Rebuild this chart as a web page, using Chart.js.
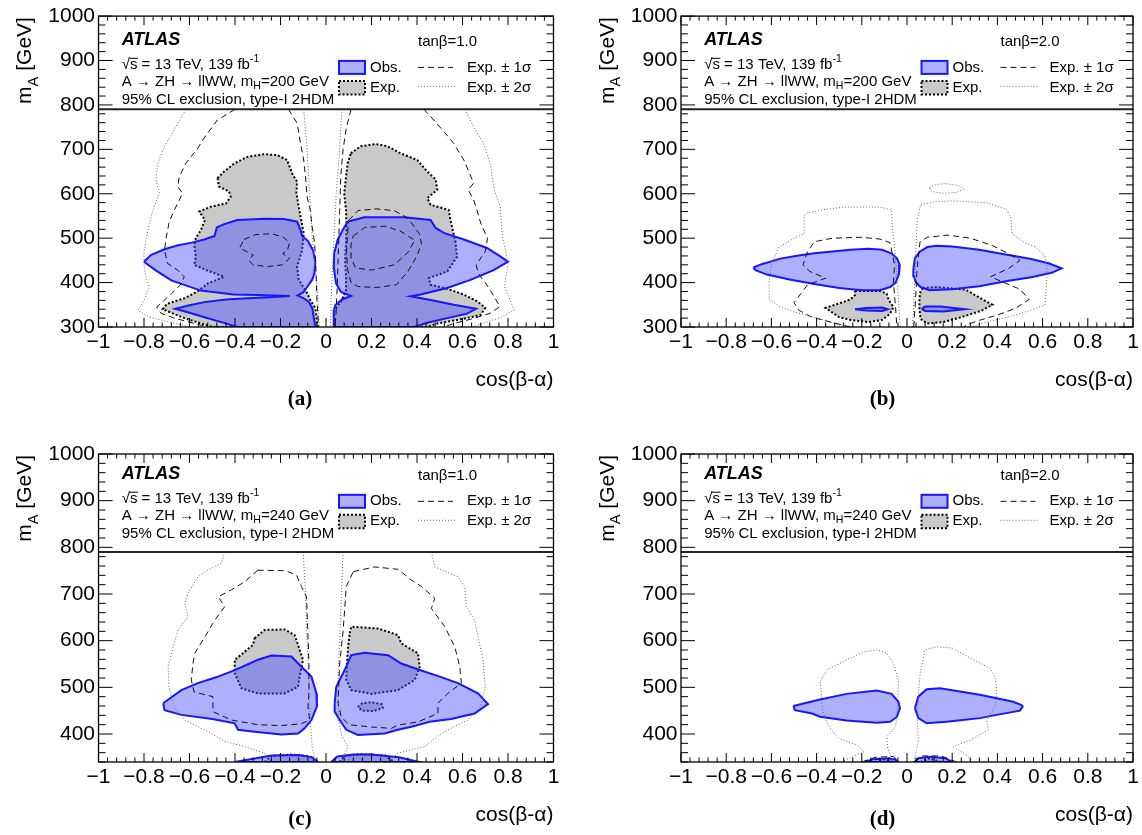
<!DOCTYPE html>
<html>
<head>
<meta charset="utf-8">
<title>A → ZH → llWW exclusion contours, type-I 2HDM</title>
<script src="https://cdn.jsdelivr.net/npm/chart.js@4.4.1/dist/chart.umd.min.js"></script>
<style>
  body { margin: 0; background: #fff; }
  #wrap { position: relative; width: 1142px; height: 835px; }
  canvas { position: absolute; }
</style>
</head>
<body>
<div id="wrap">
  <canvas id="panelA" width="571" height="417" style="left:0;top:0"></canvas>
  <canvas id="panelB" width="571" height="417" style="left:571px;top:0"></canvas>
  <canvas id="panelC" width="571" height="418" style="left:0;top:417px"></canvas>
  <canvas id="panelD" width="571" height="418" style="left:571px;top:417px"></canvas>
</div>
<script>
// Axis ticks and labels
const xTickValues = [-1, -0.8, -0.6, -0.4, -0.2, 0, 0.2, 0.4, 0.6, 0.8, 1];
const xTickLabels = ['−1', '−0.8', '−0.6', '−0.4', '−0.2', '0', '0.2', '0.4', '0.6', '0.8', '1'];
const yTicksLow = [300, 400, 500, 600, 700, 800, 900, 1000];
const yTicksHigh = [400, 500, 600, 700, 800, 900, 1000];
const legendCut = 790;   // contours stop under the legend block

// ---- (a) mH = 200 GeV, tanb = 1.0 ----  points are [cos(b-a), mA]
const obsA_L = [[-0.80,447],[-0.77,462],[-0.71,475],[-0.65,484],[-0.59,490],[-0.535,497],[-0.49,505],[-0.48,524],[-0.45,531],[-0.39,541],[-0.27,544],[-0.185,543],[-0.127,537],[-0.112,518],[-0.105,505],[-0.08,494],[-0.057,473],[-0.047,447],[-0.051,421],[-0.061,406],[-0.083,390],[-0.10,378],[-0.125,371],[-0.095,364],[-0.075,356],[-0.06,342],[-0.054,322],[-0.046,300],[-0.39,300],[-0.46,311],[-0.535,322],[-0.60,332],[-0.663,341],[-0.60,349],[-0.535,356],[-0.44,362],[-0.343,365],[-0.25,367],[-0.16,370],[-0.30,372],[-0.407,373],[-0.55,382],[-0.68,405],[-0.75,428]];
const obsA_R = [[0.095,537],[0.168,547],[0.343,547],[0.46,541],[0.482,523],[0.518,512],[0.606,497],[0.708,478],[0.766,459],[0.80,447],[0.737,428],[0.635,406],[0.533,388],[0.416,373],[0.372,369],[0.46,361],[0.562,350],[0.66,341],[0.62,330],[0.533,320],[0.45,310],[0.387,300],[0.034,300],[0.034,338],[0.042,350],[0.07,362],[0.11,370],[0.066,379],[0.044,398],[0.034,436],[0.036,466],[0.051,496],[0.073,518]];
const expA_L = [[-0.477,635],[-0.448,650],[-0.404,668],[-0.346,683],[-0.273,689],[-0.214,687],[-0.171,676],[-0.149,646],[-0.127,627],[-0.130,601],[-0.120,571],[-0.109,541],[-0.098,511],[-0.105,473],[-0.127,436],[-0.120,406],[-0.090,383],[-0.069,361],[-0.047,342],[-0.036,300],[-0.50,300],[-0.623,320],[-0.718,340],[-0.70,352],[-0.62,365],[-0.565,380],[-0.52,398],[-0.448,413],[-0.521,427],[-0.579,440],[-0.572,458],[-0.579,485],[-0.572,500],[-0.550,518],[-0.532,541],[-0.557,560],[-0.506,571],[-0.44,578],[-0.419,593],[-0.426,605],[-0.470,616]];
const expA_R = [[0.109,691],[0.153,707],[0.219,712],[0.27,707],[0.328,691],[0.401,676],[0.445,650],[0.482,632],[0.489,609],[0.445,590],[0.46,575],[0.511,568],[0.54,563],[0.547,541],[0.562,507],[0.569,493],[0.576,458],[0.533,425],[0.452,410],[0.46,395],[0.518,388],[0.569,380],[0.605,373],[0.664,358],[0.70,343],[0.679,327],[0.60,318],[0.489,308],[0.445,300],[0.036,300],[0.036,338],[0.066,357],[0.088,383],[0.088,413],[0.084,451],[0.088,488],[0.09,530],[0.088,563],[0.08,601],[0.088,638],[0.095,668]];
const sig1A_L = [[-0.40,790],[-0.477,766],[-0.53,730],[-0.567,700],[-0.616,669],[-0.645,638],[-0.652,616],[-0.63,601],[-0.667,563],[-0.689,537],[-0.703,500],[-0.71,473],[-0.696,443],[-0.652,428],[-0.623,413],[-0.64,395],[-0.679,375],[-0.744,345],[-0.725,331],[-0.667,320],[-0.579,308],[-0.52,300]];
const sig1A_Lin = [[-0.165,790],[-0.127,759],[-0.112,713],[-0.098,676],[-0.09,638],[-0.083,593],[-0.069,563],[-0.061,526],[-0.05,488],[-0.045,440],[-0.042,400],[-0.04,360],[-0.036,330],[-0.032,300]];
const sig1A_Lring = [[-0.36,497],[-0.31,508],[-0.24,510],[-0.19,503],[-0.16,490],[-0.17,472],[-0.19,465],[-0.16,455],[-0.19,440],[-0.26,436],[-0.32,440],[-0.34,450],[-0.32,462],[-0.38,478]];
const sig1A_R = [[0.43,790],[0.474,766],[0.518,740],[0.562,713],[0.606,676],[0.63,647],[0.649,624],[0.625,609],[0.649,586],[0.664,563],[0.68,534],[0.71,500],[0.70,470],[0.66,440],[0.67,420],[0.70,400],[0.722,383],[0.765,346],[0.722,331],[0.64,318],[0.562,308],[0.518,300]];
const sig1A_Rin = [[0.11,790],[0.09,750],[0.075,700],[0.065,640],[0.06,560],[0.055,480],[0.05,400],[0.045,340],[0.04,300]];
const sig1A_Rring1 = [[0.10,540],[0.14,562],[0.22,566],[0.30,562],[0.36,545],[0.41,510],[0.42,488],[0.40,460],[0.36,425],[0.31,395],[0.22,389],[0.14,391],[0.11,400],[0.095,430],[0.09,470],[0.095,510]];
const sig1A_Rring2 = [[0.12,505],[0.17,524],[0.26,527],[0.33,515],[0.39,495],[0.36,468],[0.30,440],[0.20,428],[0.13,433],[0.11,455],[0.11,485]];
const sig2A_L = [[-0.616,790],[-0.667,744],[-0.71,706],[-0.74,669],[-0.747,631],[-0.732,601],[-0.761,563],[-0.776,533],[-0.79,500],[-0.80,470],[-0.80,440],[-0.79,410],[-0.776,390],[-0.80,360],[-0.827,338],[-0.78,323],[-0.68,310],[-0.594,300]];
const sig2A_Lin = [[-0.098,790],[-0.085,713],[-0.072,600],[-0.06,500],[-0.045,420],[-0.035,360],[-0.03,300]];
const sig2A_R = [[0.61,790],[0.649,751],[0.693,713],[0.722,668],[0.73,638],[0.74,609],[0.766,571],[0.77,541],[0.775,504],[0.79,470],[0.80,440],[0.79,410],[0.785,390],[0.81,360],[0.827,338],[0.77,322],[0.70,310],[0.64,300]];
const sig2A_Rin = [[0.07,790],[0.06,700],[0.045,600],[0.035,500],[0.028,420],[0.022,360],[0.02,300]];

// ---- (b) mH = 200 GeV, tanb = 2.0 ----
const obsB_L = [[-0.68,434],[-0.64,442],[-0.56,454],[-0.48,461],[-0.41,466],[-0.33,470],[-0.25,474],[-0.17,476],[-0.11,474],[-0.07,466],[-0.045,455],[-0.032,440],[-0.035,420],[-0.05,400],[-0.075,390],[-0.12,383],[-0.2,383],[-0.3,388],[-0.41,397],[-0.52,407],[-0.62,418],[-0.67,428]];
const obsB_R = [[0.028,430],[0.035,455],[0.058,470],[0.09,480],[0.13,483],[0.2,481],[0.32,474],[0.43,464],[0.55,453],[0.63,443],[0.684,432],[0.64,422],[0.55,412],[0.45,404],[0.32,392],[0.2,385],[0.1,383],[0.06,390],[0.04,400],[0.03,415]];
const obsB_Ls = [[-0.23,340],[-0.18,343],[-0.11,344],[-0.085,340],[-0.11,336],[-0.18,337]];
const obsB_Rs = [[0.065,341],[0.08,346],[0.15,346],[0.255,340],[0.16,335],[0.08,336]];
const expB_L = [[-0.23,381],[-0.12,381],[-0.09,375],[-0.08,360],[-0.06,345],[-0.075,330],[-0.11,316],[-0.17,311],[-0.25,316],[-0.30,322],[-0.36,343],[-0.30,353],[-0.25,362],[-0.23,372]];
const expB_R = [[0.07,388],[0.13,390],[0.26,384],[0.30,372],[0.378,350],[0.33,337],[0.24,322],[0.16,311],[0.09,308],[0.06,318],[0.055,340],[0.055,365],[0.06,380]];
const sig1B_L = [[-0.25,300],[-0.33,310],[-0.42,322],[-0.48,338],[-0.50,355],[-0.47,375],[-0.44,395],[-0.36,410],[-0.43,425],[-0.46,440],[-0.44,470],[-0.41,492],[-0.33,500],[-0.2,502],[-0.12,498],[-0.075,490],[-0.065,465],[-0.055,440],[-0.06,400],[-0.055,370],[-0.05,340],[-0.045,300]];
const sig1B_R = [[0.03,300],[0.035,340],[0.04,380],[0.043,420],[0.05,460],[0.058,492],[0.09,502],[0.18,507],[0.28,500],[0.38,483],[0.46,462],[0.50,450],[0.45,432],[0.37,413],[0.43,400],[0.50,385],[0.54,362],[0.48,342],[0.40,327],[0.32,315],[0.27,306],[0.25,300]];
const sig2B_L = [[-0.27,300],[-0.36,315],[-0.46,328],[-0.56,345],[-0.61,362],[-0.61,400],[-0.60,440],[-0.567,480],[-0.50,500],[-0.455,510],[-0.455,550],[-0.44,557],[-0.36,565],[-0.28,570],[-0.12,570],[-0.07,564],[-0.065,530],[-0.055,480],[-0.048,430],[-0.04,380],[-0.035,340],[-0.03,300]];
const sig2B_R = [[0.025,300],[0.03,360],[0.035,420],[0.04,480],[0.045,540],[0.06,575],[0.12,582],[0.2,584],[0.35,580],[0.44,565],[0.46,545],[0.465,510],[0.52,490],[0.57,480],[0.61,460],[0.62,430],[0.615,380],[0.61,350],[0.55,338],[0.45,323],[0.36,312],[0.28,300]];
const sig2B_island = [[0.10,613],[0.12,620],[0.17,623],[0.23,618],[0.25,610],[0.22,603],[0.16,601],[0.11,605]];

// ---- (c) mH = 240 GeV, tanb = 1.0 ----
const obsC_L = [[-0.716,466],[-0.636,494],[-0.563,509],[-0.48,522],[-0.401,537],[-0.299,559],[-0.24,568],[-0.152,566],[-0.108,544],[-0.064,523],[-0.042,487],[-0.04,459],[-0.064,430],[-0.094,412],[-0.123,401],[-0.196,399],[-0.314,405],[-0.387,409],[-0.401,423],[-0.50,432],[-0.636,441],[-0.709,451]];
const obsC_R = [[0.038,466],[0.045,501],[0.082,537],[0.111,569],[0.17,574],[0.273,569],[0.331,551],[0.412,537],[0.50,523],[0.58,509],[0.668,487],[0.712,464],[0.653,444],[0.55,432],[0.463,427],[0.38,416],[0.316,409],[0.258,401],[0.141,398],[0.089,409],[0.06,430],[0.038,448]];
const obsC_Lb = [[-0.40,340],[-0.32,347],[-0.24,354],[-0.12,355],[-0.06,350],[-0.035,340]];
const obsC_Rb = [[0.023,340],[0.05,352],[0.12,356],[0.2,356],[0.32,350],[0.41,340]];
const expC_L = [[-0.314,605],[-0.27,623],[-0.182,624],[-0.138,612],[-0.123,591],[-0.101,559],[-0.116,523],[-0.123,501],[-0.182,487],[-0.299,487],[-0.372,498],[-0.401,530],[-0.401,559],[-0.358,576],[-0.321,591]];
const expC_R = [[0.104,616],[0.111,630],[0.229,626],[0.316,612],[0.331,594],[0.404,573],[0.412,544],[0.39,516],[0.316,494],[0.199,486],[0.111,494],[0.089,516],[0.092,550],[0.097,587]];
const expC_Rdot = [[0.14,458],[0.16,466],[0.2,468],[0.245,464],[0.25,456],[0.21,449],[0.16,450]];
const expC_Lb = [[-0.27,340],[-0.24,353],[-0.15,356],[-0.07,352],[-0.045,340]];
const expC_Rb = [[0.06,340],[0.08,353],[0.15,357],[0.26,354],[0.3,340]];
const sig1C_L = [[-0.30,751],[-0.18,750],[-0.13,741],[-0.108,716],[-0.086,694],[-0.082,650],[-0.079,609],[-0.075,550],[-0.075,490],[-0.079,459],[-0.072,430],[-0.108,422],[-0.20,418],[-0.30,420],[-0.416,430],[-0.497,448],[-0.497,480],[-0.58,490],[-0.592,516],[-0.585,550],[-0.577,573],[-0.53,610],[-0.489,644],[-0.445,673],[-0.474,694],[-0.416,709],[-0.358,726]];
const sig1C_R = [[0.12,748],[0.214,758],[0.316,753],[0.375,730],[0.42,716],[0.478,691],[0.463,669],[0.522,630],[0.566,587],[0.588,544],[0.595,509],[0.536,487],[0.492,466],[0.492,444],[0.404,426],[0.316,419],[0.287,412],[0.2,415],[0.1,420],[0.067,437],[0.053,466],[0.06,550],[0.075,620],[0.082,666],[0.089,716]];
const sig2C_L = [[-0.445,790],[-0.46,766],[-0.52,751],[-0.563,737],[-0.607,701],[-0.621,680],[-0.607,651],[-0.651,623],[-0.672,587],[-0.694,544],[-0.69,500],[-0.67,460],[-0.62,430],[-0.56,415],[-0.504,401],[-0.45,385],[-0.358,373],[-0.27,359],[-0.24,340]];
const sig2C_Lin = [[-0.10,790],[-0.09,700],[-0.083,600],[-0.075,500],[-0.068,420],[-0.06,370],[-0.045,340]];
const sig2C_R = [[0.463,790],[0.478,758],[0.58,737],[0.61,716],[0.617,673],[0.653,644],[0.668,609],[0.69,559],[0.70,501],[0.68,460],[0.624,430],[0.56,415],[0.507,401],[0.434,373],[0.316,359],[0.273,340]];
const sig2C_Rin = [[0.075,790],[0.068,700],[0.06,600],[0.052,500],[0.055,430],[0.07,395],[0.097,373],[0.08,355],[0.07,340]];

// ---- (d) mH = 240 GeV, tanb = 2.0 ----
const obsD_L = [[-0.503,460],[-0.496,451],[-0.42,444],[-0.385,437],[-0.267,429],[-0.134,424],[-0.075,426],[-0.046,436],[-0.031,455],[-0.038,469],[-0.068,486],[-0.134,493],[-0.267,486],[-0.385,474]];
const obsD_R = [[0.035,455],[0.05,480],[0.087,496],[0.146,498],[0.323,484],[0.47,469],[0.507,462],[0.512,459],[0.50,450],[0.397,441],[0.323,434],[0.176,426],[0.087,423],[0.05,434]];
const obsD_Lb = [[-0.19,340],[-0.15,346],[-0.08,348],[-0.05,345],[-0.04,340]];
const obsD_Rb = [[0.035,340],[0.05,348],[0.1,351],[0.17,348],[0.2,340]];
const expD_Lb = [[-0.14,340],[-0.1,346],[-0.06,340]];
const expD_Rb = [[0.06,340],[0.1,348],[0.15,340]];
const sig1D_Lb = [[-0.2,340],[-0.14,350],[-0.06,352],[-0.04,340]];
const sig1D_Rb = [[0.03,340],[0.07,353],[0.15,353],[0.22,340]];
const sig2D_L = [[-0.29,340],[-0.24,352],[-0.19,362],[-0.22,376],[-0.30,390],[-0.33,405],[-0.355,426],[-0.37,445],[-0.38,470],[-0.378,487],[-0.385,512],[-0.355,537],[-0.267,559],[-0.19,576],[-0.134,580],[-0.09,573],[-0.06,551],[-0.038,516],[-0.04,470],[-0.05,416],[-0.09,394],[-0.085,370],[-0.07,350],[-0.06,340]];
const sig2D_R = [[0.028,340],[0.04,360],[0.05,387],[0.046,423],[0.05,480],[0.058,530],[0.08,580],[0.131,587],[0.2,584],[0.294,559],[0.367,541],[0.389,523],[0.397,494],[0.39,460],[0.353,430],[0.36,409],[0.28,387],[0.205,373],[0.264,355],[0.293,340]];

const FONT = "'Liberation Sans', Arial, Helvetica, sans-serif";
const OBS_FILL = 'rgba(70, 80, 255, 0.45)';
const OBS_LINE = '#1616ff';
const EXP_FILL = '#c9c9c9';

function toPoints(arr, closed) {
  const list = closed ? arr.concat([arr[0]]) : arr;
  return list.map(p => ({ x: p[0], y: p[1] }));
}

// dataset makers, lower order is drawn on top
function obsArea(arr) {
  return { data: toPoints(arr, true), borderColor: OBS_LINE, borderWidth: 2, backgroundColor: OBS_FILL, fill: 'shape', order: 3 };
}
function expArea(arr) {
  return { data: toPoints(arr, true), borderColor: '#000', borderWidth: 2, borderDash: [2, 2], backgroundColor: EXP_FILL, fill: 'shape', order: 4 };
}
function sigma1(arr, closed) {
  return { data: toPoints(arr, closed), borderColor: '#111', borderWidth: 1, borderDash: [6, 4], fill: false, order: 1 };
}
function sigma2(arr, closed) {
  return { data: toPoints(arr, closed), borderColor: '#666', borderWidth: 1, borderDash: [1, 2], fill: false, order: 2 };
}

// draws text pieces with sub/superscripts, returns end x
function rich(ctx, x, y, parts, size) {
  parts.forEach(part => {
    const s = (part.sub || part.sup) ? size * 0.7 : size;
    ctx.font = s + 'px ' + FONT;
    const dy = part.sub ? size * 0.32 : (part.sup ? -size * 0.42 : 0);
    ctx.fillText(part.t, x, y + dy);
    x += ctx.measureText(part.t).width;
  });
  return x;
}

function seg(ctx, x1, y1, x2, y2) {
  ctx.beginPath(); ctx.moveTo(x1, y1); ctx.lineTo(x2, y2); ctx.stroke();
}

// ROOT-like frame: inner ticks, cut line, legend and labels
const rootStyle = {
  id: 'rootStyle',
  afterDatasetsDraw(chart, args, opts) {
    const { ctx, chartArea: a } = chart;
    const xs = chart.scales.x, ys = chart.scales.y;
    ctx.save();

    // line under the legend block
    const yc = ys.getPixelForValue(legendCut);
    ctx.strokeStyle = '#222'; ctx.lineWidth = 2;
    seg(ctx, a.left, yc, a.right, yc);

    // ticks on all four sides
    ctx.strokeStyle = '#000'; ctx.lineWidth = 1;
    ctx.beginPath();
    const tickX = (v, len) => {
      const px = xs.getPixelForValue(v);
      ctx.moveTo(px, a.bottom); ctx.lineTo(px, a.bottom - len);
      ctx.moveTo(px, a.top); ctx.lineTo(px, a.top + len);
    };
    xTickValues.forEach((v, i) => {
      tickX(v, 9);
      if (i < xTickValues.length - 1) {
        const step = (xTickValues[i + 1] - v) / 5;
        for (let k = 1; k < 5; k++) tickX(v + k * step, 4.5);
      }
    });
    for (let v = ys.min; v <= ys.max; v += 20) {
      const len = v % 100 === 0 ? 14 : 7;
      const py = ys.getPixelForValue(v);
      ctx.moveTo(a.left, py); ctx.lineTo(a.left + len, py);
      ctx.moveTo(a.right, py); ctx.lineTo(a.right - len, py);
    }
    ctx.stroke();

    // frame
    ctx.lineWidth = 1.3;
    ctx.strokeRect(a.left, a.top, a.right - a.left, a.bottom - a.top);

    // annotation block
    const L = a.left, T = a.top + opts.textTop;
    ctx.fillStyle = '#000';
    ctx.textAlign = 'left';
    ctx.textBaseline = 'middle';
    ctx.font = 'italic bold 18px ' + FONT;
    ctx.fillText('ATLAS', L + 23.2, T);

    ctx.font = '15px ' + FONT;
    const rootW = ctx.measureText('√').width;
    const sW = ctx.measureText('s').width;
    rich(ctx, L + 23.2, T + 25, [{ t: '√s = 13 TeV, 139 fb' }, { t: '-1', sup: true }], 15);
    ctx.lineWidth = 1;
    seg(ctx, L + 23.2 + rootW - 0.5, T + 25 - 6.8, L + 23.2 + rootW + sW + 0.5, T + 25 - 6.8);
    rich(ctx, L + 23.2, T + 41.5, [{ t: 'A → ZH → llWW, m' }, { t: 'H', sub: true }, { t: '=' + opts.mH + ' GeV' }], 15);
    ctx.font = '15px ' + FONT;
    ctx.fillText('95% CL exclusion, type-I 2HDM', L + 23.2, T + 59.5);
    ctx.fillText('tanβ=' + opts.tanb, L + 319.5, T + 1.7);

    // legend
    ctx.fillStyle = OBS_FILL;
    ctx.fillRect(L + 240.5, T + 20.8, 26, 13);
    ctx.strokeStyle = OBS_LINE; ctx.lineWidth = 2;
    ctx.strokeRect(L + 240.5, T + 20.8, 26, 13);
    ctx.fillStyle = EXP_FILL;
    ctx.fillRect(L + 240.5, T + 40.8, 26, 13.5);
    ctx.strokeStyle = '#000'; ctx.setLineDash([2, 2]);
    ctx.strokeRect(L + 240.5, T + 40.8, 26, 13.5);
    ctx.lineWidth = 1; ctx.strokeStyle = '#111'; ctx.setLineDash([6, 4]);
    seg(ctx, L + 319.5, T + 27.3, L + 354.5, T + 27.3);
    ctx.strokeStyle = '#666'; ctx.setLineDash([1, 2]);
    seg(ctx, L + 319.5, T + 46.3, L + 358.5, T + 46.3);
    ctx.setLineDash([]);
    ctx.fillStyle = '#000';
    ctx.fillText('Obs.', L + 271.5, T + 27.3);
    ctx.fillText('Exp.', L + 271.5, T + 47.3);
    ctx.fillText('Exp. ± 1σ', L + 368.5, T + 27.3);
    ctx.fillText('Exp. ± 2σ', L + 368.5, T + 47.3);

    // axis titles
    ctx.textBaseline = 'alphabetic';
    ctx.textAlign = 'right';
    ctx.font = '21px ' + FONT;
    ctx.fillText('cos(β-α)', a.right, a.bottom + 59);

    ctx.save();
    ctx.translate(a.left - 67.5, a.top + 1);
    ctx.rotate(-Math.PI / 2);
    ctx.textAlign = 'left';
    const yParts = [{ t: 'm' }, { t: 'A', sub: true }, { t: ' [GeV]' }];
    let w = 0;
    yParts.forEach(p => { ctx.font = ((p.sub ? 21 * 0.7 : 21) + 'px ' + FONT); w += ctx.measureText(p.t).width; });
    rich(ctx, -w, 0, yParts, 21);
    ctx.restore();

    // panel letter
    ctx.textAlign = 'center';
    ctx.font = "bold 21px 'Liberation Serif', 'Times New Roman', serif";
    ctx.fillText(opts.label, a.left + 201.5, a.bottom + opts.labelDy);
    ctx.restore();
  }
};

function makePanel(id, cfg) {
  const canvas = document.getElementById(id);
  const W = canvas.width, H = canvas.height;
  return new Chart(canvas, {
    type: 'line',
    data: { datasets: cfg.datasets },
    options: {
      responsive: false,
      animation: false,
      events: [],
      layout: { padding: { left: 0, top: cfg.top, right: W - cfg.right, bottom: 0 } },
      elements: { point: { radius: 0 }, line: { tension: 0 } },
      scales: {
        x: {
          type: 'linear', min: -1, max: 1,
          grid: { display: false, drawTicks: false },
          border: { display: false },
          afterBuildTicks: s => { s.ticks = xTickValues.map(v => ({ value: v })); },
          afterFit: s => { s.height = H - cfg.bottom; },
          ticks: {
            autoSkip: false, maxRotation: 0, minRotation: 0, padding: 3, color: '#000',
            font: { family: FONT, size: 21 },
            callback: (v, i) => xTickLabels[i]
          }
        },
        y: {
          type: 'linear', min: cfg.ymin, max: 1000,
          grid: { display: false, drawTicks: false },
          border: { display: false },
          afterBuildTicks: s => { s.ticks = cfg.yTicks.map(v => ({ value: v })); },
          afterFit: s => { s.width = cfg.left; },
          ticks: {
            autoSkip: false, padding: 3.5, color: '#000',
            font: { family: FONT, size: 21 },
            callback: v => String(v)
          }
        }
      },
      plugins: {
        legend: { display: false },
        tooltip: { enabled: false },
        rootStyle: { mH: cfg.mH, tanb: cfg.tanb, textTop: cfg.textTop, labelDy: cfg.labelDy, label: cfg.label }
      }
    },
    plugins: [rootStyle]
  });
}

makePanel('panelA', {
  label: '(a)', mH: '200', tanb: '1.0', ymin: 300, yTicks: yTicksLow,
  left: 98.5, right: 553.5, top: 16, bottom: 327, textTop: 24, labelDy: 78,
  datasets: [
    expArea(expA_L), expArea(expA_R),
    obsArea(obsA_L), obsArea(obsA_R),
    sigma1(sig1A_L), sigma1(sig1A_Lin), sigma1(sig1A_Lring, true),
    sigma1(sig1A_R), sigma1(sig1A_Rin), sigma1(sig1A_Rring1, true), sigma1(sig1A_Rring2, true),
    sigma2(sig2A_L), sigma2(sig2A_Lin), sigma2(sig2A_R), sigma2(sig2A_Rin)
  ]
});

makePanel('panelB', {
  label: '(b)', mH: '200', tanb: '2.0', ymin: 300, yTicks: yTicksLow,
  left: 110, right: 562, top: 16, bottom: 327, textTop: 24, labelDy: 78,
  datasets: [
    expArea(expB_L), expArea(expB_R),
    obsArea(obsB_L), obsArea(obsB_R), obsArea(obsB_Ls), obsArea(obsB_Rs),
    sigma1(sig1B_L), sigma1(sig1B_R),
    sigma2(sig2B_L), sigma2(sig2B_R), sigma2(sig2B_island, true)
  ]
});

makePanel('panelC', {
  label: '(c)', mH: '240', tanb: '1.0', ymin: 340, yTicks: yTicksHigh,
  left: 98.5, right: 553.5, top: 37, bottom: 345, textTop: 20, labelDy: 63,
  datasets: [
    expArea(expC_L), expArea(expC_R), expArea(expC_Rdot), expArea(expC_Lb), expArea(expC_Rb),
    obsArea(obsC_L), obsArea(obsC_R), obsArea(obsC_Lb), obsArea(obsC_Rb),
    sigma1(sig1C_L, true), sigma1(sig1C_R, true),
    sigma2(sig2C_L), sigma2(sig2C_Lin), sigma2(sig2C_R), sigma2(sig2C_Rin)
  ]
});

makePanel('panelD', {
  label: '(d)', mH: '240', tanb: '2.0', ymin: 340, yTicks: yTicksHigh,
  left: 110, right: 562, top: 37, bottom: 345, textTop: 20, labelDy: 63,
  datasets: [
    expArea(expD_Lb), expArea(expD_Rb),
    obsArea(obsD_L), obsArea(obsD_R), obsArea(obsD_Lb), obsArea(obsD_Rb),
    sigma1(sig1D_Lb), sigma1(sig1D_Rb),
    sigma2(sig2D_L), sigma2(sig2D_R)
  ]
});
</script>
</body>
</html>
